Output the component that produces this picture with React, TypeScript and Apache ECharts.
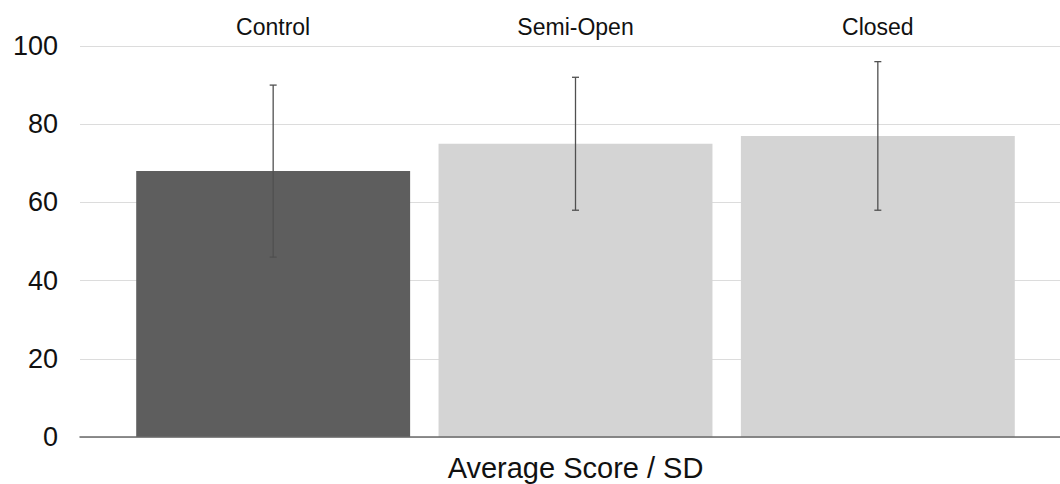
import React, { useEffect, useRef } from "react";
import * as echarts from "echarts";

const categories = ["Control", "Semi-Open", "Closed"];
const averages = [68, 75, 77];
const sdLow = [46, 58, 58];
const sdHigh = [90, 92, 96];
const barColors = ["#5e5e5e", "#d4d4d4", "#d4d4d4"];
const yTicks = { min: 0, max: 100, interval: 20 };
const axisTitle = "Average Score / SD";

const FONT = "'Liberation Sans', Arial, Helvetica, sans-serif";

export default function App() {
  const ref = useRef<HTMLDivElement>(null);
  useEffect(() => {
    document.body.style.margin = "0";
    const chart = echarts.init(ref.current!, null, { renderer: "svg" });
    const errData = categories.map((c, i) => [i, sdLow[i], sdHigh[i]]);
    chart.setOption({
      animation: false,
      textStyle: { fontFamily: FONT },
      grid: [
        { left: 80, right: 0, top: 46, bottom: 47, outerBoundsMode: "none", containLabel: false },
        { left: 122, right: 31, top: 46, bottom: 47, outerBoundsMode: "none", containLabel: false },
      ],
      xAxis: [
        {
          gridIndex: 0,
          type: "value",
          min: 0,
          max: 1,
          z: 5,
          axisLine: { show: true, lineStyle: { color: "#6a6a6a", width: 1.5 } },
          axisTick: { show: false },
          axisLabel: { show: false },
          splitLine: { show: false },
        },
        {
          gridIndex: 1,
          type: "category",
          position: "top",
          data: categories,
          axisLine: { show: false },
          axisTick: { show: false },
          axisLabel: { color: "#111", fontSize: 23, margin: 8, fontFamily: FONT },
        },
        {
          gridIndex: 1,
          type: "category",
          position: "bottom",
          data: categories,
          axisLine: { show: false },
          axisTick: { show: false },
          axisLabel: { show: false },
          name: axisTitle,
          nameLocation: "middle",
          nameGap: 16,
          nameTextStyle: { color: "#111", fontSize: 29, fontFamily: FONT },
        },
      ],
      yAxis: [
        {
          gridIndex: 0,
          type: "value",
          ...yTicks,
          axisLine: { show: false },
          axisTick: { show: false },
          axisLabel: { color: "#111", fontSize: 27, margin: 22, fontFamily: FONT },
          splitLine: { lineStyle: { color: "#dcdcdc", width: 1.2 } },
        },
        {
          gridIndex: 1,
          type: "value",
          ...yTicks,
          show: false,
        },
      ],
      series: [
        {
          type: "bar",
          xAxisIndex: 1,
          yAxisIndex: 1,
          barCategoryGap: "9.4%",
          data: averages.map((v, i) => ({ value: v, itemStyle: { color: barColors[i] } })),
        },
        {
          type: "custom",
          xAxisIndex: 1,
          yAxisIndex: 1,
          z: 4,
          data: errData,
          renderItem: (params: any, api: any) => {
            const lo = api.coord([api.value(0), api.value(1)]);
            const hi = api.coord([api.value(0), api.value(2)]);
            const cap = 3.5;
            const style = { stroke: "#505050", lineWidth: 1.3 };
            return {
              type: "group",
              children: [
                { type: "line", shape: { x1: hi[0], y1: hi[1], x2: lo[0], y2: lo[1] }, style },
                { type: "line", shape: { x1: hi[0] - cap, y1: hi[1], x2: hi[0] + cap, y2: hi[1] }, style },
                { type: "line", shape: { x1: lo[0] - cap, y1: lo[1], x2: lo[0] + cap, y2: lo[1] }, style },
              ],
            };
          },
        },
      ],
    });
    return () => chart.dispose();
  }, []);
  return <div ref={ref} style={{ width: 1060, height: 484 }} />;
}
